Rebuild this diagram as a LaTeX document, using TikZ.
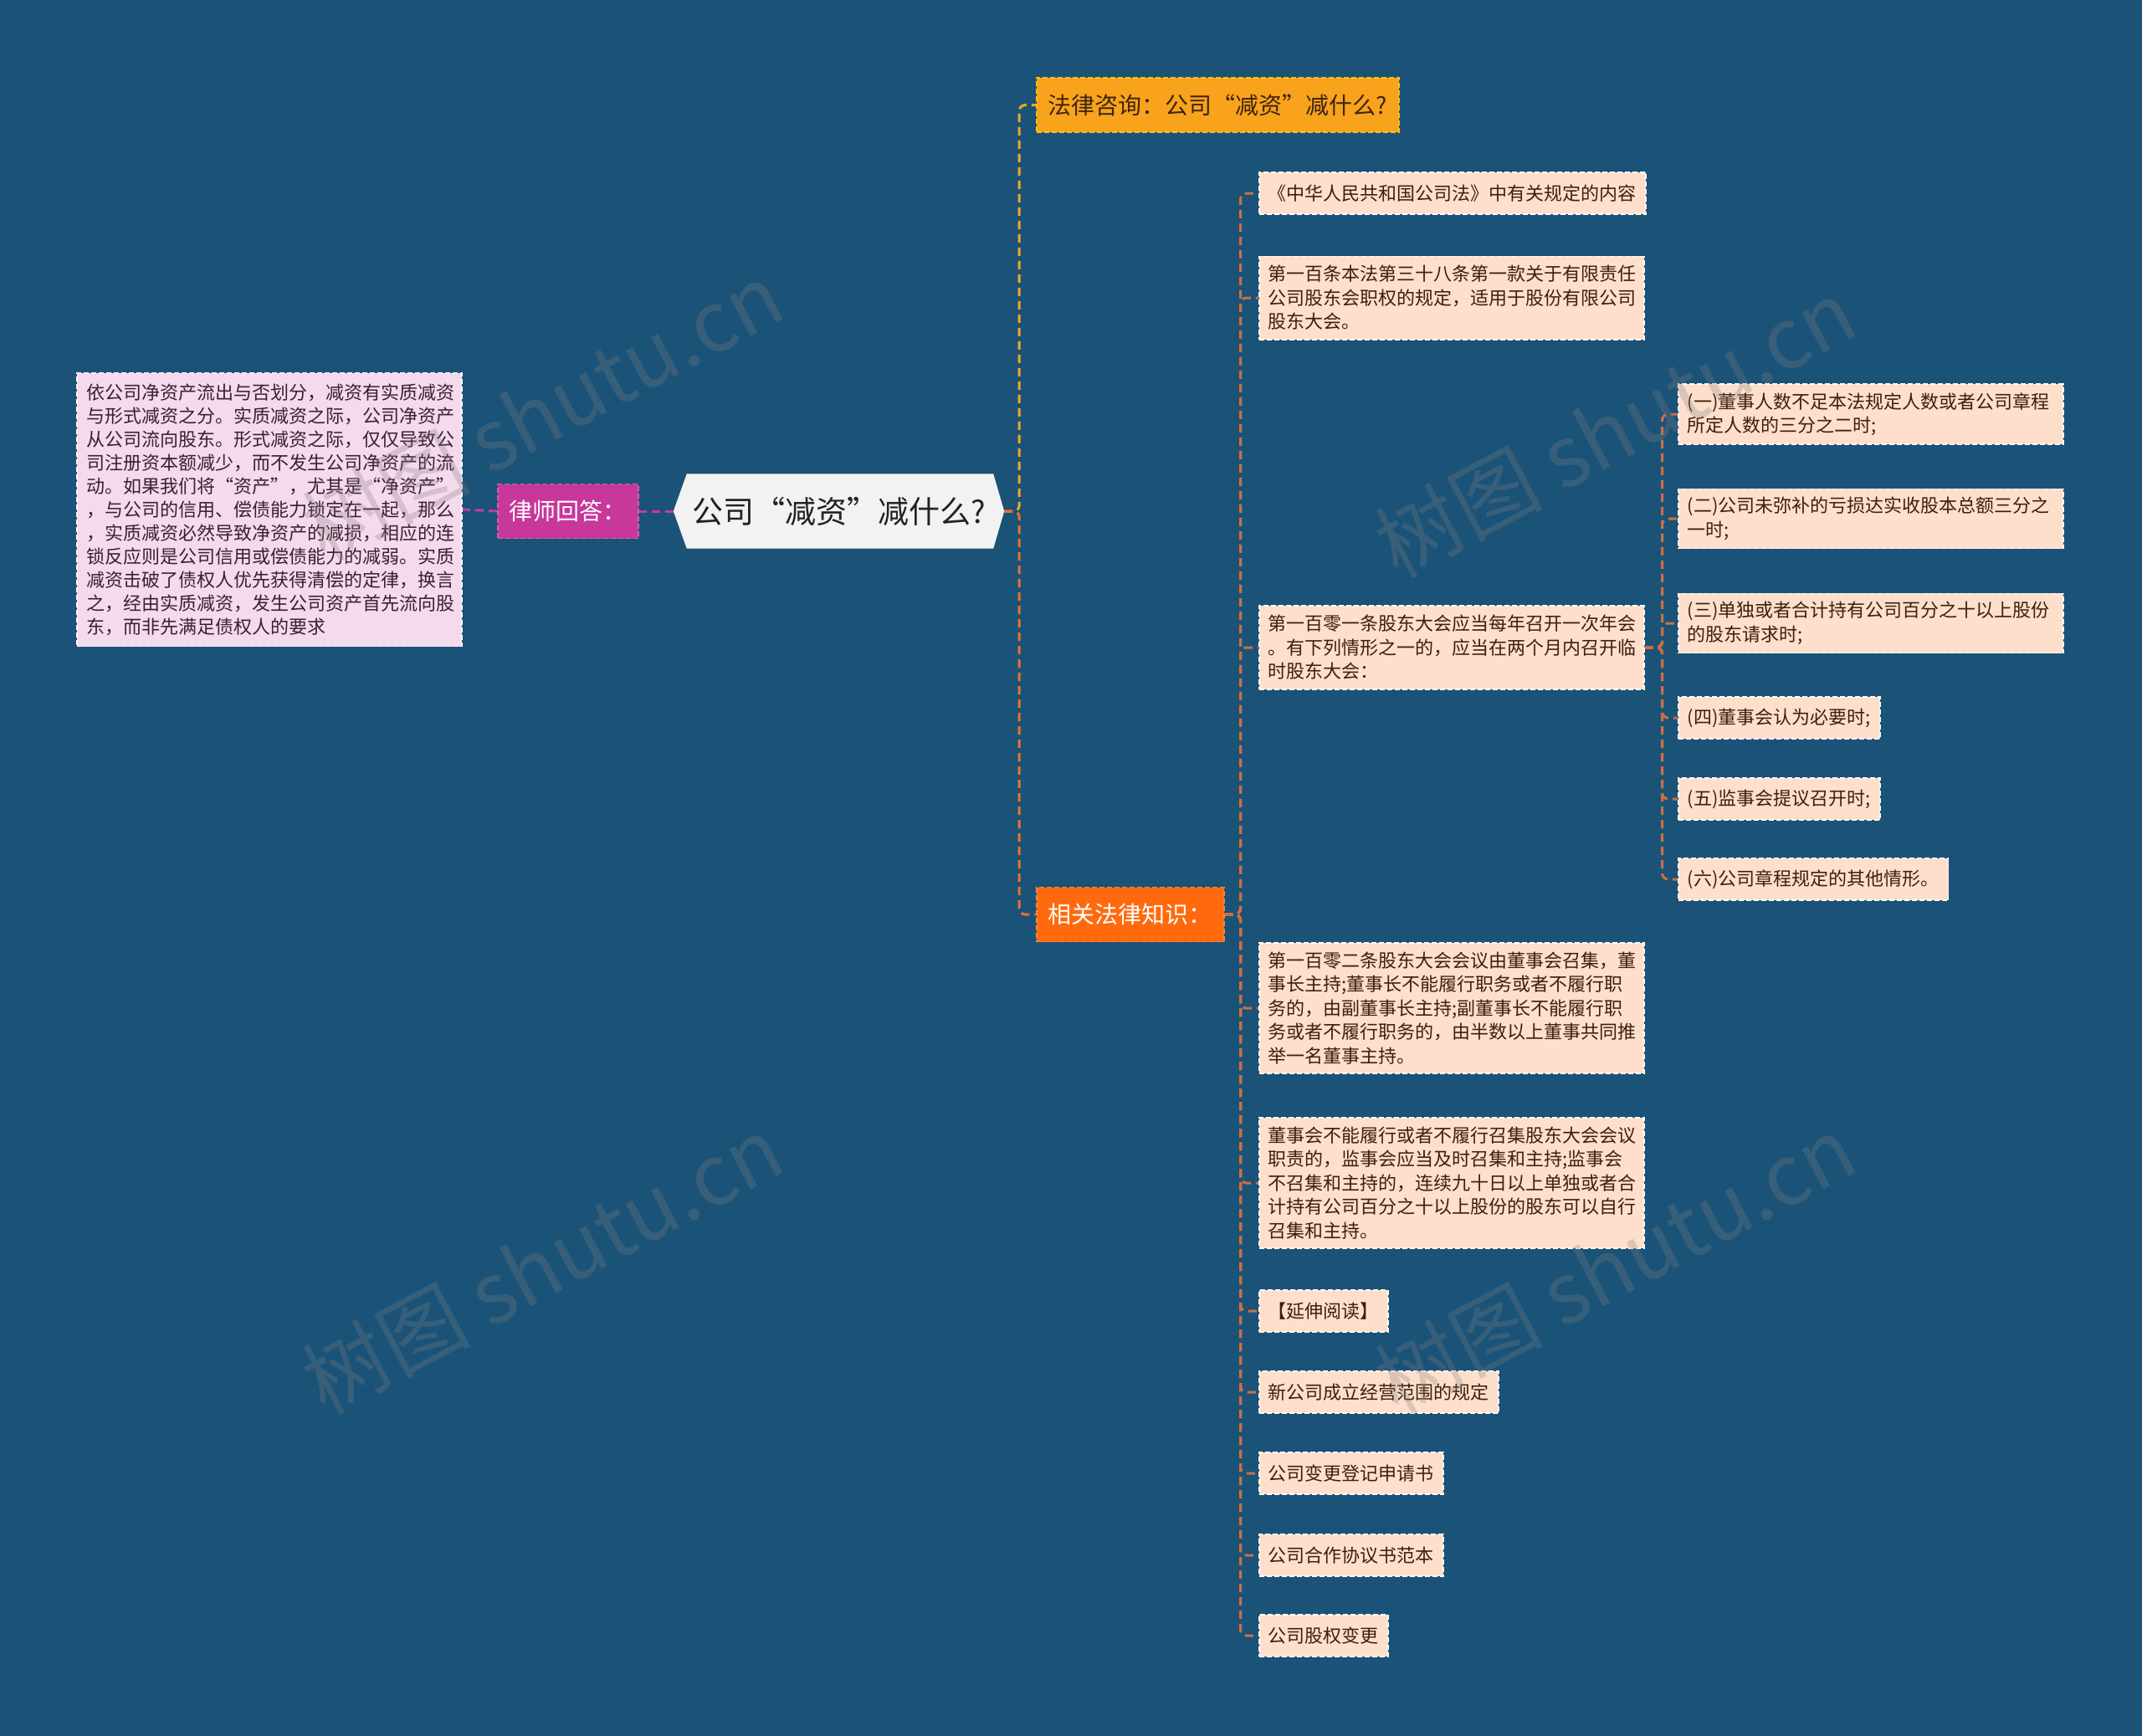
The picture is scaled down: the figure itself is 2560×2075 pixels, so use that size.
\documentclass[tikz,border=0pt]{standalone}
\usepackage{fontspec}
\setmainfont{Noto Sans CJK SC}
\pgfdeclarelayer{bg}
\pgfsetlayers{bg,main}
\definecolor{bgblue}{RGB}{27,83,120}
\definecolor{peach}{RGB}{253,223,203}
\definecolor{peachtext}{RGB}{61,31,15}
\definecolor{pinkfill}{RGB}{245,217,236}
\definecolor{pinktext}{RGB}{58,32,48}
\definecolor{magfill}{RGB}{200,55,154}
\definecolor{magline}{RGB}{196,60,156}
\definecolor{consult}{RGB}{248,163,27}
\definecolor{consulttext}{RGB}{61,36,16}
\definecolor{relfill}{RGB}{255,106,14}
\definecolor{yelline}{RGB}{245,166,35}
\definecolor{orgline}{RGB}{236,112,44}
\definecolor{brnline}{RGB}{204,112,64}
\definecolor{rootfill}{RGB}{242,242,242}
\definecolor{roottext}{RGB}{34,34,34}
\tikzset{
  conn/.style={line width=3pt, dash pattern=on 10pt off 6pt, rounded corners=7pt},
  bordered/.style={dash pattern=on 6pt off 3pt, line width=1.6pt},
  headbox/.style={bordered, inner xsep=14pt, inner ysep=0pt, minimum height=65pt,
    font=\fontsize{28}{34}\selectfont, anchor=west},
  leafbox/.style={bordered, fill=peach, draw=white!85!peach, text=peachtext,
    inner xsep=11pt, inner ysep=11pt, minimum height=50pt, align=left, anchor=west,
    font=\fontsize{22}{28.5}\selectfont},
  longbox/.style={leafbox, text width=438pt},
  wmark/.style={text=gray, opacity=0.28, rotate=28, font=\fontsize{100}{104}\selectfont}
}
\begin{document}
\begin{tikzpicture}[x=1pt,y=-1pt]
\begin{pgfonlayer}{bg}
\fill[bgblue] (0,0) rectangle (2560,2075);
\end{pgfonlayer}
\useasboundingbox (0,0) rectangle (2560,2075);

% root
\node[minimum width=395pt, minimum height=89pt, inner sep=0pt, text=roottext,
  font=\fontsize{37}{42}\selectfont] (root) at (1002.5,611) {公司“减资”减什么?};

% left side
\node[headbox, fill=magfill, draw=magfill!80!white, text=white] (ans) at (594,611) {律师回答：};
\node[leafbox, fill=pinkfill, draw=white!80!pinkfill, text=pinktext, text width=438pt,
  inner ysep=13pt, font=\fontsize{22}{28}\selectfont, anchor=east] (anstext) at (553,609)
  {依公司净资产流出与否划分，减资有实质减资\\
   与形式减资之分。实质减资之际，公司净资产\\
   从公司流向股东。形式减资之际，仅仅导致公\\
   司注册资本额减少，而不发生公司净资产的流\\
   动。如果我们将“资产”，尤其是“净资产”\\
   ，与公司的信用、偿债能力锁定在一起，那么\\
   ，实质减资必然导致净资产的减损，相应的连\\
   锁反应则是公司信用或偿债能力的减弱。实质\\
   减资击破了债权人优先获得清偿的定律，换言\\
   之，经由实质减资，发生公司资产首先流向股\\
   东，而非先满足债权人的要求};

% right main branches
\node[headbox, fill=consult, draw=consult!70!yellow, text=consulttext] (q) at (1238,125.5) {法律咨询：公司“减资”减什么?};
\node[headbox, fill=relfill, draw=relfill!80!white, text=white] (rel) at (1238,1093) {相关法律知识：};

% level 2
\node[leafbox] (a) at (1504,231) {《中华人民共和国公司法》中有关规定的内容};
\node[longbox] (b) at (1504,356) {第一百条本法第三十八条第一款关于有限责任\\公司股东会职权的规定，适用于股份有限公司\\股东大会。};
\node[longbox] (c) at (1504,774) {第一百零一条股东大会应当每年召开一次年会\\。有下列情形之一的，应当在两个月内召开临\\时股东大会：};
\node[longbox] (d) at (1504,1205) {第一百零二条股东大会会议由董事会召集，董\\事长主持;董事长不能履行职务或者不履行职\\务的，由副董事长主持;副董事长不能履行职\\务或者不履行职务的，由半数以上董事共同推\\举一名董事主持。};
\node[longbox] (e) at (1504,1414) {董事会不能履行或者不履行召集股东大会会议\\职责的，监事会应当及时召集和主持;监事会\\不召集和主持的，连续九十日以上单独或者合\\计持有公司百分之十以上股份的股东可以自行\\召集和主持。};
\node[leafbox] (f) at (1504,1567) {【延伸阅读】};
\node[leafbox] (g) at (1504,1664) {新公司成立经营范围的规定};
\node[leafbox] (h) at (1504,1761) {公司变更登记申请书};
\node[leafbox] (i) at (1504,1859) {公司合作协议书范本};
\node[leafbox] (j) at (1504,1955) {公司股权变更};

% level 3
\node[longbox, inner ysep=10pt] (c1) at (2005,495) {(一)董事人数不足本法规定人数或者公司章程\\所定人数的三分之二时;};
\node[longbox, inner ysep=10pt] (c2) at (2005,620) {(二)公司未弥补的亏损达实收股本总额三分之\\一时;};
\node[longbox, inner ysep=10pt] (c3) at (2005,745) {(三)单独或者合计持有公司百分之十以上股份\\的股东请求时;};
\node[leafbox] (c4) at (2005,858) {(四)董事会认为必要时;};
\node[leafbox] (c5) at (2005,955) {(五)监事会提议召开时;};
\node[leafbox] (c6) at (2005,1051) {(六)公司章程规定的其他情形。};

\begin{pgfonlayer}{bg}
\fill[rootfill] (root.west) -- ([xshift=16pt]root.north west) -- ([xshift=-13pt]root.north east)
  -- (root.east) -- ([xshift=-13pt]root.south east) -- ([xshift=16pt]root.south west) -- cycle;
\draw[conn, yelline] (root.east) -- ++(18,0) |- (q.west);
\draw[conn, orgline] (root.east) -- ++(18,0) |- (rel.west);
\draw[conn, magline] (root.west) -- (ans.east);
\draw[conn, magline] (ans.west) -- (anstext.east);
\foreach \n in {a,b,c,d,e,f,g,h,i,j}
  \draw[conn, brnline] (rel.east) -- ++(19,0) |- (\n.west);
\foreach \n in {c1,c2,c3,c4,c5,c6}
  \draw[conn, brnline] (c.east) -- ++(21,0) |- (\n.west);
\end{pgfonlayer}

% watermarks
\node[wmark] (w1) at (648,492) {树图 shutu.cn};
\node[wmark] (w2) at (648,1512) {树图 shutu.cn};
\node[wmark] (w3) at (1930,512) {树图 shutu.cn};
\node[wmark] (w4) at (1930,1512) {树图 shutu.cn};
\end{tikzpicture}
\end{document}
